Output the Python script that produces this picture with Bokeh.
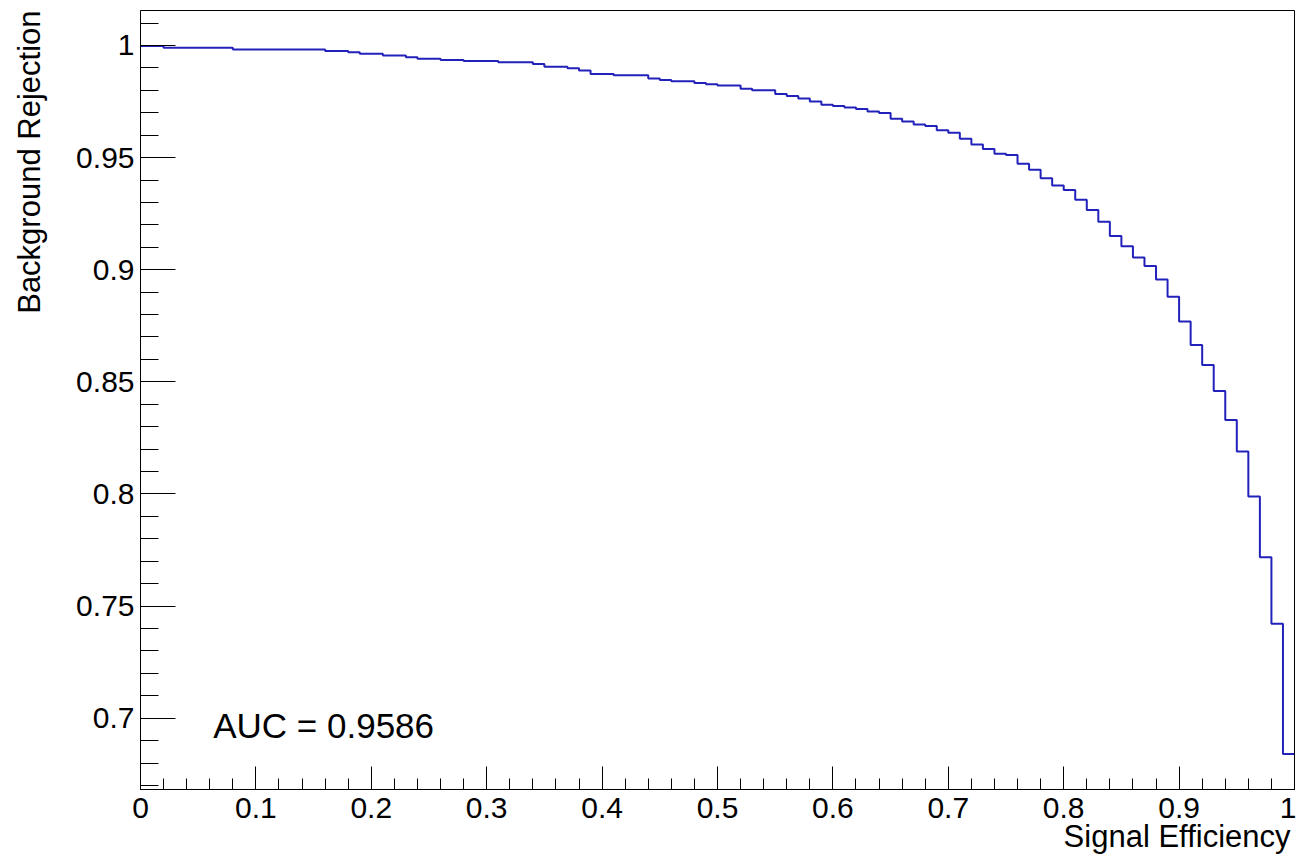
import numpy as np
from bokeh.plotting import figure
from bokeh.models import SingleIntervalTicker, CustomJSTickFormatter, Range1d, Title, Label
from bokeh.embed import file_html
from bokeh.resources import INLINE

# ---- data -------------------------------------------------------------
bin_edges = np.linspace(0.0, 1.0, 101)  # 100 bins of signal efficiency
background_rejection = [
    0.9998, 0.9998,
    0.9990, 0.9990, 0.9990, 0.9990, 0.9990, 0.9990,
    0.9982, 0.9982, 0.9982, 0.9982, 0.9982, 0.9982, 0.9982, 0.9982,
    0.9975, 0.9975,
    0.9970,
    0.9963, 0.9963,
    0.9955, 0.9955,
    0.9947,
    0.9941, 0.9941,
    0.9935, 0.9935,
    0.9931, 0.9931, 0.9931,
    0.9925, 0.9925, 0.9925,
    0.9917,
    0.9905, 0.9905,
    0.9898,
    0.9888,
    0.9873, 0.9873,
    0.9867, 0.9867, 0.9867,
    0.9853,
    0.9846,
    0.9840, 0.9840,
    0.9833,
    0.9827,
    0.9821, 0.9821,
    0.9807,
    0.9800, 0.9800,
    0.9784, 0.9775, 0.9763, 0.9750, 0.9736, 0.9730, 0.9723, 0.9717, 0.9705, 0.9699,
    0.9673, 0.9661, 0.9648, 0.9641, 0.9622, 0.9611, 0.9584, 0.9558, 0.9538, 0.9517,
    0.9511, 0.9472, 0.9446, 0.9408, 0.9375, 0.9355, 0.9312, 0.9266, 0.9214, 0.9150,
    0.9105, 0.9055, 0.9016, 0.8956, 0.8879, 0.8769, 0.8664, 0.8575, 0.8459, 0.8330,
    0.8189, 0.7989, 0.7718, 0.7421, 0.6840,
]
auc = 0.9586
x_title = "Signal Efficiency"
y_title = "Background Rejection"

# ---- axis ranges (ROOT style: 5% margin around min/max) ----------------
vmin, vmax = min(background_rejection), max(background_rejection)
margin = 0.05 * (vmax - vmin)
y_start, y_end = vmin - margin, vmax + margin

FONT = "Liberation Sans"

p = figure(width=1296, height=858, output_backend="svg", toolbar_location=None,
           x_range=Range1d(0, 1), y_range=Range1d(y_start, y_end),
           min_border_left=140, min_border_right=2, min_border_top=10,
           min_border_bottom=69, background_fill_color="white",
           border_fill_color="white")
p.outline_line_color = "black"
p.outline_line_width = 1
p.xgrid.visible = False
p.ygrid.visible = False

# step histogram
ys = list(background_rejection) + [background_rejection[-1]]
p.step(bin_edges, ys, mode="after", line_color="#2222bb", line_width=2)

# axes
fmt_code = "return String(parseFloat(tick.toFixed(6)));"
p.xaxis.ticker = SingleIntervalTicker(interval=0.1, num_minor_ticks=5)
p.yaxis.ticker = SingleIntervalTicker(interval=0.05, num_minor_ticks=5)
for ax in (p.xaxis[0], p.yaxis[0]):
    ax.formatter = CustomJSTickFormatter(code=fmt_code)
    ax.axis_line_color = "black"
    ax.major_tick_line_color = "black"
    ax.minor_tick_line_color = "black"
    ax.major_tick_out = 0
    ax.minor_tick_out = 0
    ax.major_label_text_font = FONT
    ax.major_label_text_font_size = "30px"
    ax.major_label_text_color = "black"
p.xaxis.major_label_standoff = 8
p.yaxis.major_label_standoff = 6
p.xaxis.major_tick_in = 23
p.xaxis.minor_tick_in = 11
p.yaxis.major_tick_in = 35
p.yaxis.minor_tick_in = 18

# axis titles (right/top aligned like ROOT)
xt = Title(text=x_title, align="right", text_font=FONT, text_font_size="31px",
           text_font_style="normal", text_color="black", offset=4)
try:
    xt.standoff = -8
except Exception:
    xt.standoff = 0
p.add_layout(xt, "below")

# spacer between the y tick labels and the y title
spacer = Title(text=" ", text_font=FONT, text_font_size="15px", standoff=0)
p.add_layout(spacer, "left")

yt = Title(text=y_title, align="right", text_font=FONT, text_font_size="31px",
           text_font_style="normal", text_color="black", standoff=16)
p.add_layout(yt, "left")

# AUC annotation
p.add_layout(Label(x=0.063, y=0.6967, text="AUC = %.4f" % auc, text_align="left",
                   text_baseline="middle", text_font=FONT,
                   text_font_size="35px", text_color="black"))

open("out.html", "w").write(file_html(p, INLINE))
